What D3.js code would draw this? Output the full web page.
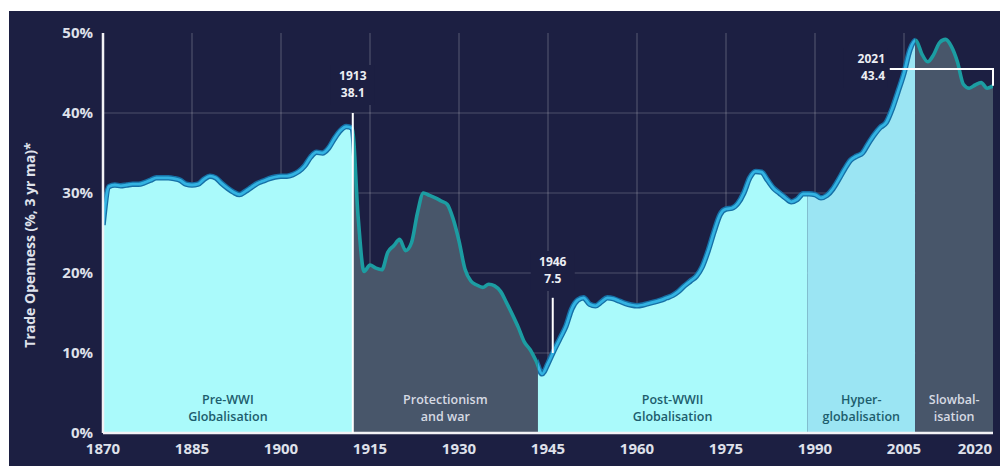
<!DOCTYPE html>
<html>
<head>
<meta charset="utf-8">
<script src="https://cdn.jsdelivr.net/npm/d3@7"></script>
<style>
    html, body { margin: 0; padding: 0; background: #fff; }
    svg { display: block; font-family: "Open Sans", sans-serif; }
</style>
</head>
<body>
<svg id="chart"></svg>
<script>
// trade openness, % of GDP (3 yr moving average), one value per year from 1870
const firstYear = 1870;
const openness = [
    26.0, 30.8, 31.0, 30.9, 31.0, 31.1, 31.1, 31.3, 31.6, 31.9, // 1870s
    31.9, 31.9, 31.8, 31.6, 31.1, 31.0, 31.1, 31.7, 32.1, 31.9, // 1880s
    31.2, 30.6, 30.1, 29.8, 30.2, 30.7, 31.2, 31.5, 31.8, 32.0, // 1890s
    32.1, 32.1, 32.3, 32.7, 33.4, 34.5, 35.1, 35.0, 35.6, 36.8, // 1900s
    37.8, 38.3, 38.1, 27.0, 20.2, 21.0, 20.6, 20.4, 22.6, 23.4, // 1910s
    24.2, 22.8, 23.8, 27.5, 30.0, 29.7, 29.4, 29.0, 28.6, 26.8, // 1920s
    24.0, 20.5, 19.0, 18.5, 18.2, 18.6, 18.4, 17.7, 16.3, 14.8, // 1930s
    13.2, 11.4, 10.4, 9.0, 7.4, 8.7, 10.3, 11.8, 13.3, 15.5,    // 1940s
    16.6, 16.9, 16.1, 15.9, 16.4, 16.9, 16.8, 16.5, 16.2, 16.0, // 1950s
    15.9, 16.0, 16.2, 16.4, 16.6, 16.9, 17.2, 17.7, 18.4, 19.0, // 1960s
    19.6, 20.8, 22.8, 25.2, 27.3, 28.0, 28.1, 28.7, 30.0, 31.9, // 1970s
    32.7, 32.6, 31.6, 30.6, 30.0, 29.4, 28.9, 29.2, 29.9, 29.9, // 1980s
    29.8, 29.4, 29.7, 30.5, 31.7, 33.0, 34.1, 34.6, 35.0, 36.2, // 1990s
    37.3, 38.2, 38.8, 40.5, 42.7, 45.0, 47.9, 49.1, 47.4, 46.4, // 2000s
    47.3, 48.8, 49.2, 48.3, 46.4, 43.6, 43.1, 43.5, 43.8, 43.1, // 2010s
    43.4                                                        // 2020
];
const years = openness.map((v, i) => firstYear + i);

const xTicks = [1870, 1885, 1900, 1915, 1930, 1945, 1960, 1975, 1990, 2005, 2020];
const yTicks = [0, 10, 20, 30, 40, 50];

const eraNames = [
    ["Pre-WWI", "Globalisation"],
    ["Protectionism", "and war"],
    ["Post-WWII", "Globalisation"],
    ["Hyper-", "globalisation"],
    ["Slowbal-", "isation"]
];
const eraBreaks = [1870, 1912.1, 1943.3, 1988.7, 2006.9, 2020];
const eraTones = ["light", "dark", "light", "mid", "dark"];

const callouts = [
    { label: "1913", value: "38.1", at: 1912.1 },
    { label: "1946", value: "7.5", at: 1945.8 },
    { label: "2021", value: "43.4", at: 2020 }
];

const width = 1000,
    height = 466;

const tone = {
    light: { fill: "#aafafb", text: "#1d5d6d" },
    mid: { fill: "#9be5f3", text: "#1d5d6d" },
    dark: { fill: "#48566a", text: "#d6dae3" }
};

const svg = d3.select("#chart").attr("width", width).attr("height", height);

const x = d3.scaleLinear().domain([1870, 2020]).range([103, 993]);
const y = d3.scaleLinear().domain([0, 50]).range([433, 33]);

const series = years.map((yr, i) => ({ year: yr, value: openness[i] }));

const eras = eraNames.map((name, i) => ({
    name: name,
    start: eraBreaks[i],
    end: eraBreaks[i + 1],
    tone: eraTones[i]
}));

// panel
svg.append("rect")
    .attr("x", 9)
    .attr("y", 11)
    .attr("width", width - 9)
    .attr("height", height - 11)
    .attr("fill", "#1c1f42");

const defs = svg.append("defs");

eras.forEach((e, i) => {
    defs.append("clipPath")
        .attr("id", "era-" + i)
        .append("rect")
        .attr("x", x(e.start))
        .attr("y", 0)
        .attr("width", x(e.end) - x(e.start))
        .attr("height", height);
});

["light", "dark"].forEach(kind => {
    defs.append("clipPath")
        .attr("id", "line-" + kind)
        .selectAll("rect")
        .data(eras.filter(e => (kind == "dark") == (e.tone == "dark")))
        .enter()
        .append("rect")
        .attr("x", e => x(e.start))
        .attr("y", 0)
        .attr("width", e => x(e.end) - x(e.start))
        .attr("height", height);
});

// grid
const grid = svg.append("g").attr("stroke", "#ffffff").attr("stroke-opacity", 0.22).attr("stroke-width", 1.2);

grid.selectAll("line.h")
    .data(yTicks.filter(t => t > 0 && t < 50))
    .enter()
    .append("line")
    .attr("x1", x(1870))
    .attr("x2", x(2020))
    .attr("y1", d => y(d))
    .attr("y2", d => y(d));

grid.selectAll("line.v")
    .data(xTicks.slice(1, -1))
    .enter()
    .append("line")
    .attr("x1", d => x(d))
    .attr("x2", d => x(d))
    .attr("y1", y(50))
    .attr("y2", y(0));

// areas per era
const area = d3
    .area()
    .curve(d3.curveMonotoneX)
    .x(d => x(d.year))
    .y0(y(0))
    .y1(d => y(d.value));

svg.append("g")
    .selectAll("path")
    .data(eras)
    .enter()
    .append("path")
    .attr("clip-path", (e, i) => "url(#era-" + i + ")")
    .attr("d", area(series))
    .attr("fill", e => tone[e.tone].fill);

// line
const line = d3
    .line()
    .curve(d3.curveMonotoneX)
    .x(d => x(d.year))
    .y(d => y(d.value));

const lightLine = svg.append("g").attr("clip-path", "url(#line-light)");
lightLine.append("path")
    .attr("d", line(series))
    .attr("fill", "none")
    .attr("stroke", "#1670a6")
    .attr("stroke-width", 5.5)
    .attr("stroke-linejoin", "round");
lightLine.append("path")
    .attr("d", line(series))
    .attr("fill", "none")
    .attr("stroke", "#33b3e2")
    .attr("stroke-width", 2.8)
    .attr("stroke-linejoin", "round");

svg.append("g")
    .attr("clip-path", "url(#line-dark)")
    .append("path")
    .attr("d", line(series))
    .attr("fill", "none")
    .attr("stroke", "#1c9da2")
    .attr("stroke-width", 3.6)
    .attr("stroke-linejoin", "round");

// era labels
const eraLabels = svg.append("g")
    .attr("font-size", 12.5)
    .attr("font-weight", 600)
    .attr("text-anchor", "middle");

eras.forEach(e => {
    e.name.forEach((txt, j) => {
        eraLabels.append("text")
            .attr("x", x((e.start + e.end) / 2))
            .attr("y", y(0) - 29 + j * 17)
            .attr("fill", tone[e.tone].text)
            .text(txt);
    });
});

// axes
svg.append("line")
    .attr("x1", x(1870))
    .attr("x2", x(1870))
    .attr("y1", y(50))
    .attr("y2", y(0))
    .attr("stroke", "#f2f2f5")
    .attr("stroke-width", 2.5);

svg.append("line")
    .attr("x1", x(1870))
    .attr("x2", x(2020))
    .attr("y1", y(0))
    .attr("y2", y(0))
    .attr("stroke", "#f2f2f5")
    .attr("stroke-width", 2.5);

svg.append("g")
    .selectAll("text")
    .data(yTicks)
    .enter()
    .append("text")
    .attr("x", 93)
    .attr("y", d => y(d) + 5)
    .attr("text-anchor", "end")
    .attr("font-size", 15)
    .attr("font-weight", 700)
    .attr("fill", "#dfe1ea")
    .text(d => d + "%");

svg.append("g")
    .selectAll("text")
    .data(xTicks)
    .enter()
    .append("text")
    .attr("x", (d, i) => (i == xTicks.length - 1 ? x(d) - 1 : x(d)))
    .attr("y", 454)
    .attr("text-anchor", (d, i) => (i == xTicks.length - 1 ? "end" : "middle"))
    .attr("font-size", 15)
    .attr("font-weight", 700)
    .attr("fill", "#dfe1ea")
    .text(d => d);

svg.append("text")
    .attr("transform", "translate(35," + 245 + ") rotate(-90)")
    .attr("text-anchor", "middle")
    .attr("font-size", 14)
    .attr("font-weight", 700)
    .attr("fill", "#dfe1ea")
    .text("Trade Openness (%, 3 yr ma)*");

// callouts
function calloutText(c, cx, top, anchor) {
    const g = svg.append("g");
    g.append("rect")
        .attr("x", anchor == "end" ? cx - 42 : cx - 22)
        .attr("y", top - 15)
        .attr("width", 44)
        .attr("height", 40)
        .attr("fill", "#1c1f42");
    [c.label, c.value].forEach((t, j) => {
        g.append("text")
            .attr("x", cx)
            .attr("y", top + j * 17)
            .attr("text-anchor", anchor)
            .attr("font-size", 12)
            .attr("font-weight", 700)
            .attr("fill", "#eceef3")
            .text(t);
    });
}

const [c1913, c1946, c2021] = callouts;

calloutText(c1913, x(c1913.at), 80, "middle");
svg.append("line")
    .attr("x1", x(c1913.at))
    .attr("x2", x(c1913.at))
    .attr("y1", y(40))
    .attr("y2", y(0))
    .attr("stroke", "#ffffff")
    .attr("stroke-width", 2);

calloutText(c1946, x(c1946.at), 266, "middle");
svg.append("line")
    .attr("x1", x(c1946.at))
    .attr("x2", x(c1946.at))
    .attr("y1", y(16.9))
    .attr("y2", y(10))
    .attr("stroke", "#ffffff")
    .attr("stroke-width", 2);

calloutText(c2021, x(2001.8), 63, "end");
svg.append("path")
    .attr(
        "d",
        "M" + x(2002.6) + "," + y(45.5) +
        "H" + x(c2021.at) +
        "V" + y(+c2021.value)
    )
    .attr("fill", "none")
    .attr("stroke", "#ffffff")
    .attr("stroke-width", 2);
</script>
</body>
</html>
